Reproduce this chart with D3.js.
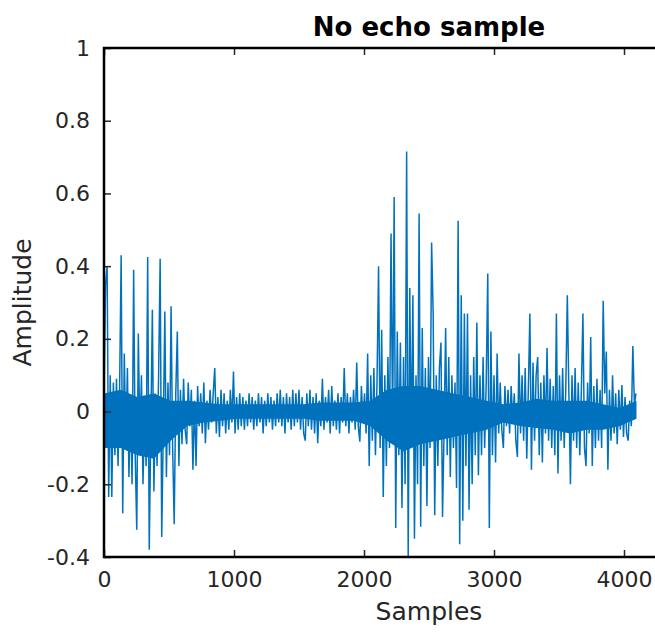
<!DOCTYPE html>
<html>
<head>
<meta charset="utf-8">
<script src="https://cdn.jsdelivr.net/npm/d3@7"></script>
<style>
  body { margin: 0; background: #fff; }
  text { font-family: "DejaVu Sans", sans-serif; }
</style>
</head>
<body>
<div class="viewbox"></div>
<script>
  // amplitude, one value every `step` samples
  const step = 12;
  const amplitude = [
    0.05, 0.35, 0.40, -0.235, 0.10, -0.235, 0.08, -0.12, 0.09, -0.15,
    0.06, 0.43, -0.28, 0.16, -0.10, 0.12, -0.18, 0.04, -0.20, 0.39,
    -0.12, -0.325, 0.215, -0.08, 0.10, -0.20, 0.02, -0.15, 0.425, -0.38,
    -0.05, 0.28, -0.22, 0.05, -0.15, 0.10, 0.42, -0.345, -0.05, 0.275,
    -0.18, 0.08, -0.12, 0.29, -0.10, -0.31, 0.05, 0.22, -0.15, 0.06,
    // quiet part
    -0.09, 0.09, -0.05, -0.09, 0.08, -0.04, 0.06, -0.16, 0.03, -0.15,
    0.07, -0.04, 0.05, -0.06, 0.08, -0.087, 0.03, -0.05, 0.06, -0.03,
    0.05, 0.12, -0.06, 0.04, -0.07, 0.06, -0.04, 0.05, -0.06, 0.03,
    -0.05, 0.06, -0.03, 0.11, -0.06, 0.04, -0.05, 0.05, -0.04, 0.04,
    -0.05, 0.03, -0.04, 0.05, -0.03, 0.04, -0.05, 0.03, -0.04, 0.05,
    -0.03, 0.04, -0.06, 0.03, -0.04, 0.05, -0.03, 0.04, -0.05, 0.03,
    -0.04, 0.05, -0.03, 0.06, -0.04, 0.04, -0.06, 0.05, -0.03, 0.04,
    -0.05, 0.06, -0.04, 0.05, -0.03, 0.06, -0.05, 0.04, -0.06, -0.08,
    0.05, -0.04, 0.06, -0.05, 0.04, -0.06, 0.05, -0.087, 0.03, -0.04,
    0.09, -0.05, 0.04, -0.03, 0.06, -0.06, 0.07, -0.04, 0.03, -0.05,
    0.05, -0.06, 0.04, -0.03, 0.12, -0.04, 0.05, -0.06, 0.04, -0.03,
    0.06, -0.05, 0.135, -0.04, -0.083, 0.07, -0.03, 0.05, -0.06, 0.16,
    // second burst
    -0.15, 0.10, -0.08, 0.12, -0.12, 0.08, 0.40, -0.10, 0.225, -0.235,
    0.10, -0.15, 0.15, -0.10, 0.49, -0.05, 0.59, -0.32, 0.22, -0.12,
    0.19, -0.265, 0.15, -0.20, 0.715, -0.40, 0.34, -0.10, 0.32, -0.35,
    0.10, -0.20, 0.545, -0.317, 0.23, -0.15, 0.12, -0.26, 0.15, -0.10,
    0.465, 0.27, -0.285, 0.10, -0.15, 0.12, 0.19, -0.29, -0.05, 0.23,
    -0.12, 0.15, -0.18, 0.10, -0.10, 0.08, -0.21, 0.525, -0.365, 0.32,
    -0.30, 0.27, -0.15, 0.27, -0.27, 0.10, -0.20, 0.15, -0.12, 0.245,
    // tail
    -0.175, 0.10, -0.12, 0.15, -0.10, 0.08, 0.38, -0.32, 0.22, -0.12,
    0.10, -0.14, 0.16, -0.06, 0.08, -0.05, -0.10, 0.07, -0.04, 0.06,
    -0.06, 0.07, -0.03, 0.05, -0.08, -0.125, 0.16, -0.06, 0.10, -0.08,
    0.12, -0.13, 0.06, 0.27, -0.16, 0.135, -0.08, 0.10, 0.15, -0.12,
    0.08, -0.14, 0.10, -0.06, 0.175, -0.08, 0.09, -0.10, 0.07, -0.12,
    0.27, -0.17, 0.10, -0.08, 0.12, -0.10, 0.06, 0.32, 0.05, -0.20,
    0.10, -0.08, 0.12, -0.10, 0.08, -0.12, 0.06, 0.27, -0.10, -0.15,
    0.08, -0.06, 0.205, -0.15, 0.07, -0.10, 0.09, -0.08, 0.06, -0.10,
    0.305, 0.05, 0.165, -0.16, 0.06, -0.08, 0.10, -0.06, 0.05, -0.09,
    0.06, -0.05, 0.073, -0.07, 0.04, -0.06, -0.08, 0.03, -0.04, 0.18,
    0.02, 0.05
  ];
  // the solid core of the trace, where the samples pile up (every 128 samples)
  const coreStep = 128;
  const coreTop = [
    0.05, 0.06, 0.04, 0.05, 0.03, 0.03, 0.025, 0.02, 0.02, 0.02, 0.02,
    0.02, 0.02, 0.025, 0.025, 0.025, 0.03, 0.06, 0.07, 0.07, 0.06, 0.05,
    0.04, 0.03, 0.02, 0.025, 0.035, 0.03, 0.03, 0.03, 0.02, 0.01, 0.03
  ];
  const coreBottom = [
    -0.10, -0.10, -0.12, -0.13, -0.08, -0.04, -0.03, -0.025, -0.02, -0.02, -0.02,
    -0.02, -0.02, -0.025, -0.025, -0.025, -0.04, -0.08, -0.11, -0.09, -0.08, -0.07,
    -0.06, -0.05, -0.03, -0.04, -0.045, -0.05, -0.06, -0.05, -0.05, -0.04, -0.02
  ];
  const xTicks = [0, 1000, 2000, 3000, 4000];
  const yTicks = [-0.4, -0.2, 0, 0.2, 0.4, 0.6, 0.8, 1];

  const svg_width = 655;
  const svg_height = 632;
  // axes box runs past the right edge of the picture (xlim 0..5000)
  // (can't call it `top`, that one belongs to window)
  const m = { left: 104, top: 48, bottom: 557, right: 754 };
  const blue = "#0072BD";

  let svg = d3.select(".viewbox")
    .append("svg")
    .attr("width", svg_width)
    .attr("height", svg_height)

  let x = d3.scaleLinear().domain([0, 5000]).range([m.left, m.right]);
  let y = d3.scaleLinear().domain([-0.4, 1]).range([m.bottom, m.top]);

  // dense core first, spikes on top
  let core = d3.area()
    .x((d, i) => x(i * coreStep))
    .y0((d, i) => y(coreBottom[i]))
    .y1(d => y(d));

  svg.append("path")
    .datum(coreTop)
    .attr("fill", blue)
    .attr("d", core);

  let line = d3.line()
    .x((d, i) => x(i * step))
    .y(d => y(d));

  svg.append("path")
    .datum(amplitude)
    .attr("fill", "none")
    .attr("stroke", blue)
    .attr("stroke-width", 1.5)
    .attr("d", line);

  // axes, matlab style: ticks inside, box all round
  const tickLen = 7;
  svg.append("g")
    .attr("transform", `translate(0,${m.bottom})`)
    .call(d3.axisBottom(x).tickValues(xTicks).tickSizeInner(-tickLen).tickSizeOuter(0).tickPadding(14)
      .tickFormat(d => String(d)));
  svg.append("g")
    .attr("transform", `translate(0,${m.top})`)
    .call(d3.axisTop(x).tickValues(xTicks).tickSizeInner(-tickLen).tickSizeOuter(0).tickFormat(""));
  svg.append("g")
    .attr("transform", `translate(${m.left},0)`)
    .call(d3.axisLeft(y).tickValues(yTicks).tickSizeInner(-tickLen).tickSizeOuter(0).tickPadding(14)
      .tickFormat(d => String(+d.toFixed(1))));
  svg.append("g")
    .attr("transform", `translate(${m.right},0)`)
    .call(d3.axisRight(y).tickValues(yTicks).tickSizeInner(-tickLen).tickSizeOuter(0).tickFormat(""));

  svg.selectAll(".domain").remove();
  svg.selectAll(".tick line").attr("stroke", "#262626").attr("stroke-width", 1.5);
  svg.selectAll(".tick text")
    .attr("fill", "#262626")
    .style("font-size", "22px");

  // box
  svg.append("rect")
    .attr("x", m.left)
    .attr("y", m.top)
    .attr("width", m.right - m.left)
    .attr("height", m.bottom - m.top)
    .attr("fill", "none")
    .attr("stroke", "#000")
    .attr("stroke-width", 2.5);

  svg.append("text")
    .attr("x", (m.left + m.right) / 2)
    .attr("y", 36)
    .attr("text-anchor", "middle")
    .style("font-size", "26px")
    .style("font-weight", "bold")
    .text("No echo sample");

  svg.append("text")
    .attr("x", (m.left + m.right) / 2)
    .attr("y", 620)
    .attr("text-anchor", "middle")
    .attr("fill", "#262626")
    .style("font-size", "25px")
    .text("Samples");

  svg.append("text")
    .attr("transform", `translate(31,${(m.top + m.bottom) / 2}) rotate(-90)`)
    .attr("text-anchor", "middle")
    .attr("fill", "#262626")
    .style("font-size", "25px")
    .text("Amplitude");
</script>
</body>
</html>
